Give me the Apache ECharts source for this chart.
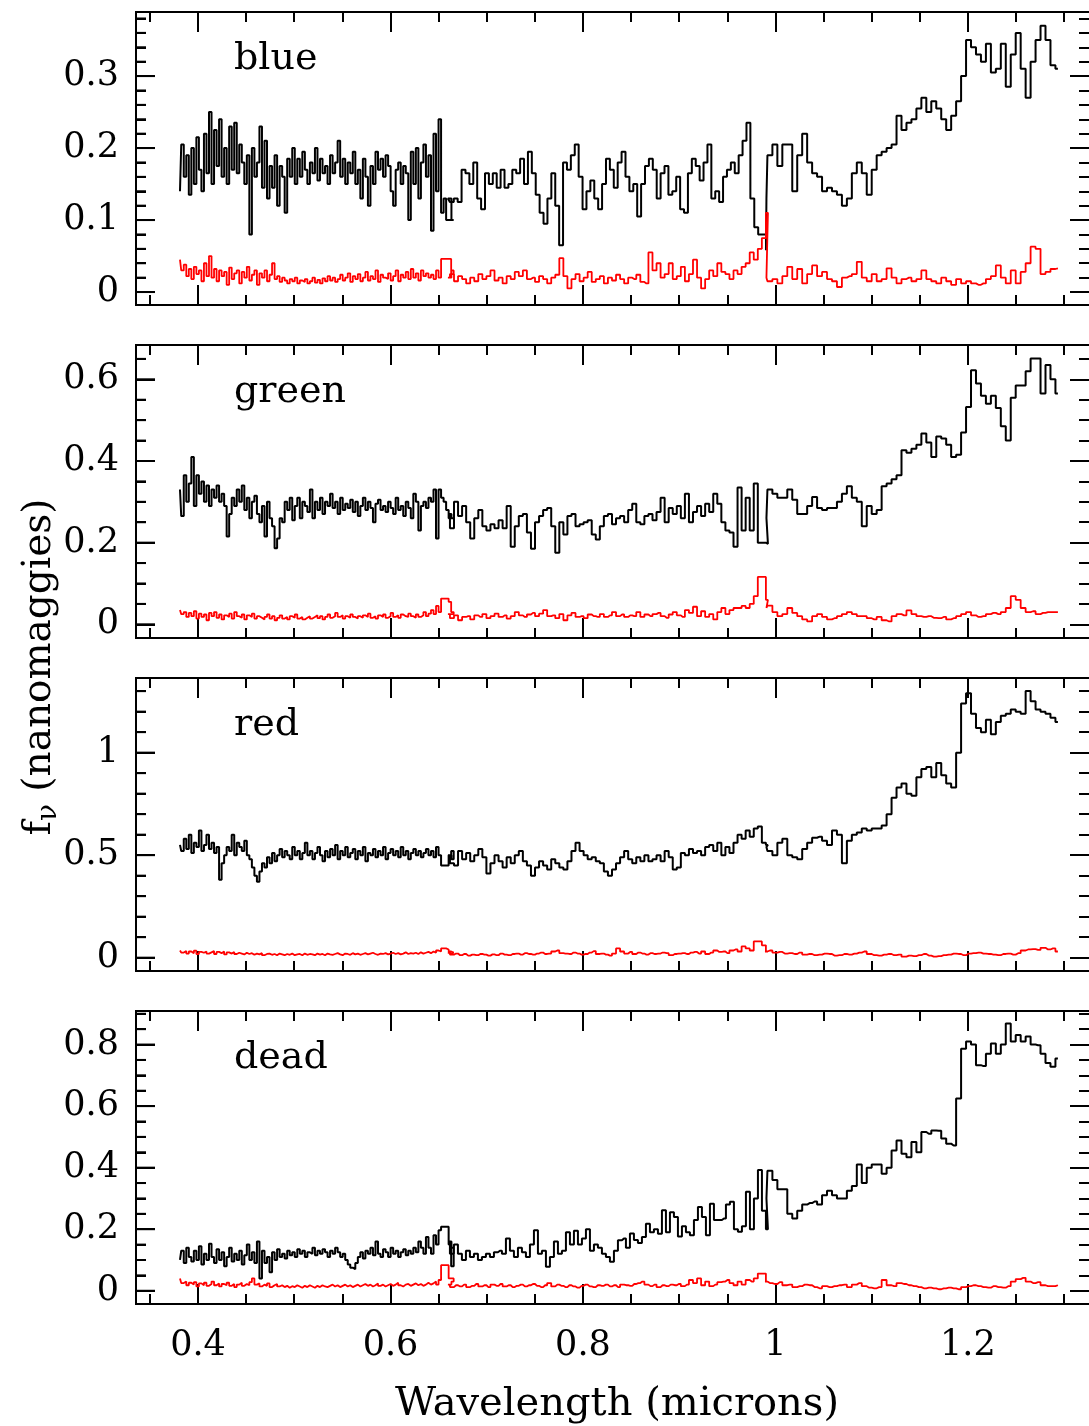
<!DOCTYPE html>
<style>
body {margin: 0; background: #fff;}
#div_echart {height: 1426px; width: 1089px;}
</style>
<script src='https://cdn.jsdelivr.net/npm/echarts@6/dist/echarts.min.js'></script>
<div id='div_echart'></div>
<script>
// wavelength span (microns) of the three spectral pieces, they overlap a little
let rangeA = [0.3813, 0.6670]
let rangeB = [0.6597, 0.9922]
let rangeC = [0.9891, 1.2935]

let panelNames = ['blue', 'green', 'red', 'dead']
let xMajor = [0.4, 0.6, 0.8, 1, 1.2]

// ---- blue
let blueFluxA = [0.140,0.205,0.160,0.190,0.135,0.200,0.150,0.215,0.170,0.140,0.220,0.165,0.250,0.150,0.225,0.175,0.240,0.160,0.200,0.150,0.230,0.170,0.235,0.165,0.205,0.180,0.150,0.190,0.080,0.200,0.160,0.180,0.230,0.145,0.210,0.130,0.175,0.145,0.190,0.120,0.175,0.160,0.110,0.185,0.160,0.200,0.150,0.185,0.160,0.195,0.170,0.150,0.180,0.165,0.200,0.155,0.185,0.165,0.175,0.150,0.190,0.165,0.180,0.210,0.160,0.185,0.150,0.180,0.165,0.195,0.150,0.170,0.130,0.185,0.160,0.120,0.175,0.150,0.195,0.170,0.185,0.160,0.190,0.175,0.140,0.120,0.170,0.180,0.150,0.175,0.165,0.100,0.195,0.150,0.200,0.130,0.180,0.205,0.160,0.190,0.085,0.220,0.140,0.240,0.110,0.130,0.100,0.100,0.100,0.100]
let blueFluxB = [0.130,0.125,0.130,0.125,0.170,0.165,0.150,0.180,0.130,0.115,0.165,0.150,0.165,0.145,0.170,0.145,0.150,0.170,0.165,0.185,0.150,0.195,0.165,0.135,0.110,0.095,0.130,0.165,0.120,0.065,0.180,0.170,0.190,0.205,0.160,0.115,0.140,0.155,0.130,0.115,0.150,0.185,0.170,0.145,0.180,0.195,0.160,0.140,0.150,0.105,0.150,0.175,0.185,0.170,0.130,0.165,0.175,0.135,0.140,0.160,0.115,0.110,0.165,0.185,0.175,0.155,0.180,0.205,0.130,0.140,0.125,0.160,0.170,0.180,0.165,0.190,0.210,0.235,0.130,0.090,0.080,0.080,0.058]
let blueFluxC = [0.130,0.190,0.205,0.175,0.205,0.205,0.140,0.190,0.220,0.180,0.165,0.160,0.140,0.145,0.140,0.135,0.120,0.130,0.165,0.180,0.165,0.135,0.170,0.190,0.195,0.200,0.205,0.245,0.225,0.235,0.240,0.255,0.270,0.250,0.265,0.255,0.240,0.225,0.245,0.265,0.300,0.350,0.340,0.330,0.320,0.345,0.305,0.310,0.345,0.285,0.330,0.360,0.310,0.270,0.320,0.350,0.370,0.350,0.315,0.310]
let blueErrA = [0.045,0.030,0.038,0.022,0.032,0.018,0.035,0.025,0.030,0.015,0.040,0.022,0.050,0.020,0.032,0.015,0.030,0.022,0.028,0.010,0.034,0.018,0.026,0.030,0.012,0.028,0.020,0.035,0.016,0.024,0.030,0.010,0.026,0.020,0.030,0.015,0.024,0.040,0.018,0.022,0.014,0.020,0.016,0.012,0.018,0.015,0.020,0.012,0.016,0.014,0.018,0.012,0.015,0.020,0.013,0.017,0.012,0.019,0.015,0.022,0.016,0.020,0.014,0.018,0.024,0.016,0.020,0.026,0.014,0.022,0.018,0.025,0.015,0.020,0.028,0.016,0.022,0.018,0.030,0.014,0.024,0.020,0.018,0.026,0.016,0.022,0.030,0.015,0.024,0.020,0.028,0.018,0.032,0.020,0.026,0.016,0.030,0.022,0.026,0.020,0.024,0.018,0.030,0.020,0.046,0.046,0.046,0.046,0.025,0.030]
let blueErrB = [0.020,0.025,0.015,0.022,0.018,0.012,0.020,0.015,0.025,0.018,0.022,0.030,0.016,0.020,0.012,0.022,0.018,0.028,0.022,0.030,0.018,0.020,0.014,0.022,0.018,0.012,0.020,0.024,0.047,0.022,0.005,0.018,0.025,0.015,0.020,0.028,0.014,0.018,0.022,0.012,0.020,0.016,0.024,0.018,0.012,0.020,0.018,0.024,0.014,0.012,0.055,0.030,0.040,0.020,0.025,0.040,0.018,0.022,0.035,0.015,0.025,0.045,0.020,0.005,0.018,0.030,0.022,0.040,0.028,0.025,0.018,0.030,0.025,0.035,0.040,0.055,0.045,0.060,0.075,0.110]
let blueErrC = [0.020,0.015,0.018,0.012,0.022,0.035,0.018,0.032,0.012,0.025,0.037,0.022,0.028,0.018,0.015,0.007,0.020,0.022,0.025,0.042,0.020,0.015,0.025,0.015,0.018,0.033,0.020,0.012,0.018,0.020,0.015,0.018,0.030,0.018,0.015,0.012,0.020,0.015,0.010,0.018,0.012,0.015,0.012,0.010,0.012,0.018,0.022,0.037,0.020,0.012,0.030,0.012,0.028,0.040,0.063,0.060,0.025,0.028,0.032,0.033]

// ---- green
let greenFluxA = [0.330,0.265,0.365,0.300,0.345,0.410,0.290,0.365,0.320,0.350,0.300,0.340,0.290,0.330,0.310,0.340,0.300,0.320,0.290,0.215,0.270,0.310,0.290,0.330,0.300,0.340,0.280,0.310,0.260,0.300,0.315,0.270,0.250,0.290,0.215,0.300,0.260,0.240,0.186,0.210,0.260,0.250,0.300,0.280,0.310,0.255,0.290,0.310,0.260,0.300,0.290,0.275,0.330,0.260,0.300,0.280,0.310,0.270,0.300,0.290,0.320,0.285,0.300,0.270,0.310,0.280,0.295,0.285,0.305,0.275,0.300,0.265,0.290,0.310,0.280,0.300,0.285,0.250,0.295,0.305,0.280,0.290,0.275,0.300,0.285,0.270,0.310,0.280,0.290,0.265,0.300,0.285,0.260,0.320,0.300,0.230,0.290,0.300,0.285,0.310,0.300,0.330,0.210,0.330,0.310,0.300,0.280,0.260,0.260,0.260]
let greenFluxB = [0.270,0.235,0.300,0.265,0.290,0.250,0.210,0.260,0.280,0.240,0.230,0.245,0.235,0.255,0.235,0.290,0.190,0.240,0.265,0.270,0.225,0.185,0.250,0.265,0.280,0.285,0.240,0.175,0.250,0.220,0.265,0.270,0.240,0.245,0.250,0.255,0.220,0.208,0.240,0.265,0.270,0.245,0.260,0.265,0.250,0.280,0.295,0.250,0.245,0.265,0.270,0.255,0.275,0.310,0.250,0.285,0.270,0.290,0.260,0.320,0.250,0.275,0.290,0.265,0.295,0.275,0.320,0.295,0.250,0.230,0.225,0.190,0.335,0.230,0.310,0.230,0.345,0.200,0.200,0.197]
let greenFluxC = [0.260,0.330,0.320,0.310,0.310,0.330,0.305,0.270,0.270,0.290,0.312,0.285,0.280,0.285,0.285,0.300,0.320,0.338,0.310,0.300,0.240,0.290,0.270,0.280,0.338,0.345,0.355,0.365,0.426,0.420,0.430,0.440,0.467,0.445,0.410,0.460,0.455,0.440,0.410,0.415,0.470,0.532,0.622,0.590,0.560,0.540,0.560,0.530,0.485,0.450,0.555,0.585,0.585,0.620,0.651,0.651,0.565,0.635,0.600,0.565]
let greenErrA = [0.035,0.025,0.030,0.018,0.028,0.020,0.032,0.014,0.026,0.018,0.024,0.010,0.028,0.020,0.030,0.016,0.024,0.012,0.022,0.018,0.026,0.014,0.030,0.020,0.016,0.024,0.012,0.022,0.018,0.026,0.014,0.020,0.016,0.012,0.018,0.024,0.014,0.020,0.010,0.016,0.022,0.014,0.018,0.012,0.020,0.016,0.024,0.014,0.018,0.012,0.016,0.020,0.014,0.018,0.022,0.015,0.020,0.012,0.018,0.024,0.016,0.020,0.028,0.018,0.022,0.014,0.020,0.016,0.024,0.018,0.014,0.020,0.016,0.022,0.018,0.026,0.016,0.020,0.014,0.022,0.018,0.024,0.016,0.020,0.028,0.018,0.022,0.016,0.024,0.020,0.018,0.026,0.020,0.016,0.024,0.018,0.022,0.030,0.020,0.026,0.035,0.025,0.045,0.030,0.063,0.063,0.063,0.055,0.030,0.025]
let greenErrB = [0.025,0.015,0.022,0.010,0.018,0.020,0.012,0.022,0.018,0.025,0.015,0.020,0.026,0.018,0.022,0.014,0.020,0.030,0.022,0.018,0.024,0.028,0.020,0.026,0.035,0.020,0.022,0.015,0.025,0.010,0.022,0.028,0.018,0.020,0.015,0.024,0.020,0.018,0.025,0.018,0.022,0.030,0.020,0.024,0.018,0.022,0.020,0.030,0.018,0.024,0.020,0.025,0.028,0.020,0.016,0.024,0.030,0.022,0.018,0.035,0.028,0.043,0.020,0.032,0.018,0.025,0.012,0.030,0.040,0.025,0.035,0.040,0.040,0.045,0.040,0.050,0.069,0.116,0.116,0.060]
let greenErrC = [0.040,0.046,0.030,0.020,0.025,0.040,0.028,0.020,0.012,0.007,0.020,0.025,0.018,0.012,0.015,0.020,0.025,0.030,0.025,0.020,0.020,0.015,0.012,0.018,0.010,0.007,0.020,0.025,0.022,0.034,0.025,0.020,0.018,0.020,0.016,0.015,0.018,0.012,0.015,0.020,0.025,0.030,0.022,0.018,0.020,0.025,0.028,0.025,0.030,0.040,0.069,0.060,0.040,0.030,0.032,0.025,0.028,0.030,0.030,0.030]

// ---- red
let redFluxA = [0.550,0.520,0.580,0.530,0.600,0.510,0.560,0.540,0.620,0.520,0.550,0.600,0.530,0.560,0.510,0.540,0.380,0.460,0.500,0.540,0.520,0.600,0.500,0.560,0.540,0.520,0.570,0.500,0.480,0.440,0.400,0.370,0.420,0.460,0.440,0.490,0.460,0.510,0.470,0.500,0.530,0.490,0.520,0.500,0.480,0.540,0.500,0.520,0.480,0.510,0.560,0.500,0.520,0.480,0.510,0.540,0.500,0.470,0.520,0.490,0.530,0.500,0.550,0.480,0.520,0.500,0.540,0.490,0.510,0.530,0.480,0.520,0.500,0.540,0.470,0.510,0.500,0.530,0.490,0.520,0.500,0.540,0.480,0.510,0.530,0.500,0.520,0.490,0.540,0.500,0.520,0.480,0.510,0.530,0.500,0.520,0.490,0.510,0.530,0.500,0.520,0.490,0.540,0.500,0.450,0.450,0.450,0.500,0.520,0.480]
let redFluxB = [0.500,0.460,0.450,0.520,0.480,0.510,0.470,0.500,0.530,0.490,0.410,0.460,0.500,0.470,0.440,0.490,0.460,0.500,0.520,0.470,0.450,0.400,0.440,0.470,0.450,0.430,0.480,0.460,0.440,0.430,0.470,0.520,0.560,0.520,0.500,0.480,0.490,0.470,0.460,0.420,0.400,0.430,0.460,0.490,0.520,0.480,0.460,0.490,0.470,0.500,0.470,0.480,0.500,0.470,0.520,0.490,0.430,0.440,0.510,0.500,0.530,0.510,0.520,0.500,0.540,0.550,0.520,0.560,0.500,0.540,0.510,0.560,0.600,0.580,0.620,0.590,0.630,0.640,0.560,0.550]
let redFluxC = [0.540,0.520,0.500,0.560,0.580,0.500,0.490,0.480,0.530,0.560,0.585,0.590,0.570,0.550,0.620,0.600,0.460,0.570,0.600,0.610,0.630,0.620,0.630,0.630,0.645,0.700,0.780,0.830,0.850,0.800,0.790,0.880,0.920,0.930,0.880,0.950,0.890,0.850,0.830,1.000,1.240,1.290,1.190,1.120,1.100,1.160,1.090,1.150,1.180,1.190,1.210,1.200,1.190,1.300,1.250,1.210,1.200,1.190,1.170,1.150]
let redErrA = [0.035,0.025,0.032,0.020,0.030,0.022,0.034,0.018,0.028,0.024,0.030,0.020,0.026,0.032,0.018,0.028,0.022,0.030,0.016,0.026,0.020,0.028,0.018,0.024,0.020,0.016,0.024,0.018,0.022,0.014,0.020,0.016,0.022,0.012,0.018,0.020,0.014,0.018,0.012,0.020,0.016,0.012,0.018,0.014,0.020,0.012,0.016,0.018,0.012,0.020,0.014,0.018,0.016,0.012,0.020,0.015,0.018,0.012,0.020,0.016,0.014,0.018,0.022,0.016,0.012,0.020,0.018,0.014,0.022,0.016,0.020,0.014,0.018,0.022,0.016,0.020,0.024,0.018,0.014,0.020,0.018,0.022,0.016,0.020,0.024,0.018,0.022,0.016,0.020,0.026,0.018,0.022,0.020,0.024,0.018,0.026,0.020,0.024,0.028,0.022,0.030,0.024,0.035,0.030,0.045,0.045,0.040,0.030,0.025,0.020]
let redErrB = [0.025,0.015,0.020,0.012,0.018,0.010,0.015,0.012,0.018,0.015,0.010,0.016,0.012,0.020,0.015,0.012,0.018,0.020,0.015,0.022,0.018,0.015,0.020,0.025,0.018,0.020,0.030,0.035,0.022,0.020,0.018,0.025,0.020,0.015,0.018,0.025,0.032,0.018,0.020,0.015,0.010,0.020,0.045,0.030,0.020,0.028,0.018,0.025,0.020,0.015,0.022,0.018,0.020,0.025,0.022,0.012,0.018,0.020,0.022,0.018,0.025,0.028,0.020,0.030,0.018,0.025,0.035,0.028,0.030,0.022,0.035,0.040,0.030,0.055,0.045,0.035,0.079,0.079,0.060,0.030]
let redErrC = [0.030,0.035,0.025,0.028,0.020,0.022,0.018,0.025,0.015,0.018,0.012,0.015,0.020,0.018,0.010,0.012,0.018,0.015,0.020,0.025,0.030,0.018,0.012,0.010,0.015,0.018,0.012,0.015,0.005,0.010,0.008,0.012,0.018,0.010,0.005,0.008,0.012,0.015,0.020,0.018,0.012,0.020,0.022,0.025,0.020,0.018,0.015,0.012,0.018,0.020,0.015,0.022,0.035,0.040,0.042,0.038,0.048,0.040,0.045,0.030]

// ---- dead
let deadFluxA = [0.100,0.130,0.090,0.140,0.110,0.095,0.130,0.100,0.145,0.085,0.120,0.100,0.153,0.110,0.090,0.135,0.100,0.125,0.080,0.110,0.140,0.095,0.120,0.100,0.130,0.085,0.115,0.150,0.100,0.125,0.090,0.160,0.040,0.130,0.090,0.110,0.060,0.125,0.100,0.135,0.110,0.120,0.105,0.130,0.115,0.125,0.110,0.135,0.120,0.130,0.110,0.125,0.120,0.140,0.115,0.130,0.120,0.135,0.125,0.110,0.130,0.120,0.140,0.125,0.110,0.120,0.100,0.085,0.075,0.070,0.090,0.110,0.125,0.105,0.130,0.120,0.140,0.115,0.160,0.120,0.110,0.135,0.125,0.110,0.140,0.120,0.130,0.110,0.125,0.135,0.115,0.130,0.120,0.140,0.125,0.160,0.140,0.120,0.175,0.140,0.120,0.180,0.150,0.197,0.208,0.208,0.208,0.150,0.080,0.140]
let deadFluxB = [0.160,0.120,0.150,0.120,0.100,0.130,0.110,0.120,0.100,0.110,0.120,0.110,0.125,0.130,0.120,0.170,0.130,0.110,0.140,0.125,0.110,0.150,0.197,0.120,0.130,0.078,0.110,0.160,0.120,0.130,0.190,0.150,0.195,0.150,0.170,0.200,0.130,0.150,0.140,0.120,0.110,0.094,0.130,0.164,0.170,0.140,0.186,0.165,0.155,0.175,0.218,0.190,0.200,0.185,0.262,0.190,0.255,0.240,0.176,0.210,0.190,0.180,0.230,0.272,0.240,0.180,0.283,0.230,0.230,0.235,0.280,0.289,0.200,0.192,0.210,0.322,0.200,0.300,0.392,0.260,0.200]
let deadFluxC = [0.300,0.390,0.360,0.330,0.330,0.250,0.235,0.260,0.280,0.285,0.290,0.280,0.310,0.325,0.310,0.300,0.300,0.325,0.340,0.410,0.350,0.400,0.410,0.410,0.380,0.400,0.456,0.488,0.445,0.434,0.483,0.450,0.516,0.510,0.521,0.520,0.495,0.478,0.472,0.625,0.786,0.810,0.800,0.733,0.730,0.770,0.803,0.770,0.800,0.868,0.810,0.831,0.810,0.826,0.800,0.798,0.770,0.740,0.728,0.755]
let deadErrA = [0.040,0.025,0.030,0.018,0.026,0.020,0.028,0.014,0.024,0.018,0.026,0.016,0.022,0.030,0.018,0.024,0.014,0.022,0.018,0.026,0.016,0.022,0.012,0.020,0.026,0.016,0.022,0.018,0.028,0.040,0.020,0.024,0.014,0.020,0.016,0.024,0.012,0.018,0.022,0.014,0.018,0.012,0.016,0.010,0.015,0.012,0.018,0.014,0.010,0.016,0.012,0.018,0.014,0.010,0.016,0.012,0.018,0.014,0.012,0.016,0.020,0.014,0.018,0.012,0.016,0.020,0.014,0.018,0.012,0.016,0.020,0.014,0.018,0.022,0.016,0.020,0.014,0.018,0.024,0.016,0.020,0.014,0.018,0.022,0.016,0.020,0.026,0.018,0.014,0.020,0.022,0.016,0.020,0.024,0.018,0.022,0.016,0.020,0.026,0.020,0.024,0.030,0.020,0.035,0.083,0.083,0.083,0.040,0.040,0.030]
let deadErrB = [0.020,0.012,0.018,0.014,0.020,0.012,0.016,0.022,0.014,0.018,0.012,0.020,0.016,0.022,0.014,0.018,0.012,0.016,0.020,0.014,0.018,0.022,0.016,0.012,0.018,0.025,0.014,0.020,0.016,0.012,0.018,0.014,0.010,0.016,0.020,0.014,0.012,0.018,0.016,0.020,0.014,0.018,0.012,0.020,0.018,0.016,0.022,0.025,0.030,0.020,0.015,0.020,0.012,0.018,0.015,0.020,0.018,0.022,0.015,0.020,0.035,0.025,0.040,0.018,0.030,0.015,0.020,0.028,0.030,0.035,0.025,0.018,0.030,0.020,0.035,0.030,0.040,0.056,0.056,0.030]
let deadErrC = [0.030,0.025,0.022,0.028,0.018,0.020,0.012,0.015,0.020,0.018,0.012,0.008,0.015,0.012,0.015,0.018,0.020,0.012,0.020,0.025,0.015,0.010,0.008,0.012,0.035,0.018,0.015,0.025,0.022,0.018,0.015,0.012,0.008,0.010,0.008,0.005,0.008,0.010,0.008,0.005,0.012,0.015,0.018,0.015,0.012,0.010,0.015,0.012,0.010,0.015,0.030,0.038,0.042,0.030,0.025,0.028,0.018,0.015,0.015,0.018]

let fluxes = [[blueFluxA, blueFluxB, blueFluxC], [greenFluxA, greenFluxB, greenFluxC], [redFluxA, redFluxB, redFluxC], [deadFluxA, deadFluxB, deadFluxC]]
let errors = [[blueErrA, blueErrB, blueErrC], [greenErrA, greenErrB, greenErrC], [redErrA, redErrB, redErrC], [deadErrA, deadErrB, deadErrC]]

// per panel y range and ticks
let yRanges = [[-0.018, 0.389], [-0.0335, 0.684], [-0.065, 1.364], [-0.043, 0.909]]
let yMajors = [[0, 0.1, 0.2, 0.3], [0, 0.2, 0.4, 0.6], [0, 0.5, 1], [0, 0.2, 0.4, 0.6, 0.8]]
let yMinorSteps = [0.02, 0.05, 0.1, 0.05]
let xRange = [0.3356, 1.3258]

let font = 'DejaVu Serif'
let gridWidth = 953

function piece(range, values) {
	let n = values.length
	return values.map((v, i) => [range[0] + (range[1] - range[0]) * i / (n - 1), v])
}
function spectrum(parts) {
	return [...piece(rangeA, parts[0]), ...piece(rangeB, parts[1]), ...piece(rangeC, parts[2])]
}
function minorTicks(range, step, majors) {
	let out = []
	for (let k = Math.ceil(range[0] / step - 1e-9); k * step <= range[1] + 1e-9; k++) {
		let v = +(k * step).toFixed(4)
		if (!majors.some(m => Math.abs(m - v) < 1e-9)) out.push(v)
	}
	return out
}
function axis(grid, position, range, ticks, length, labels, margin, line) {
	return {
		type: 'value', gridIndex: grid, position, min: range[0], max: range[1],
		axisLine: {show: line, onZero: false, lineStyle: {color: '#000', width: 2}}, splitLine: {show: false},
		axisTick: {show: true, inside: true, length, customValues: ticks, lineStyle: {color: '#000', width: 2}},
		axisLabel: labels ? {show: true, customValues: labels, margin, showMinLabel: true, showMaxLabel: true, hideOverlap: false,
			color: '#000', fontFamily: font, fontSize: 35} : {show: false}
	}
}
// left-frame ticks, placed through the y scale of the panel
function leftTicks(i, yMinor) {
	return {
		type: 'custom', xAxisIndex: 4 * i, yAxisIndex: 4 * i, silent: true, clip: false, z: 5,
		encode: {x: 1, y: 0},
		data: [...yMajors[i].map(v => [v, 19]), ...yMinor.map(v => [v, 10])],
		renderItem: (params, api) => {
			let p = api.coord([xRange[0], api.value(0)])
			return {type: 'line', shape: {x1: p[0], y1: p[1], x2: p[0] + api.value(1), y2: p[1]}, style: {stroke: '#000', lineWidth: 2}}
		}
	}
}

let grids = [], xAxes = [], yAxes = [], series = [], graphics = []
let xMinor = minorTicks(xRange, 0.05, xMajor)
for (let i = 0; i < 4; i++) {
	let top = 12 + 333 * i
	grids.push({left: 136, top, width: gridWidth, height: 293})
	let last = i == 3
	xAxes.push(axis(i, 'bottom', xRange, xMajor, 20, last ? xMajor : null, 24, true))
	xAxes.push(axis(i, 'bottom', xRange, xMinor, 10, null, 0, true))
	xAxes.push(axis(i, 'top', xRange, xMajor, 20, null, 0, true))
	xAxes.push(axis(i, 'top', xRange, xMinor, 10, null, 0, true))
	let yMinor = minorTicks(yRanges[i], yMinorSteps[i], yMajors[i])
	yAxes.push(axis(i, 'left', yRanges[i], yMajors[i], 19, yMajors[i], 17, true))
	yAxes.push(axis(i, 'left', yRanges[i], yMinor, 10, null, 0, true))
	yAxes.push(axis(i, 'right', yRanges[i], yMajors[i], 19, null, 0, false))
	yAxes.push(axis(i, 'right', yRanges[i], yMinor, 10, null, 0, false))
	series.push({type: 'line', step: 'middle', xAxisIndex: 4 * i, yAxisIndex: 4 * i, showSymbol: false, data: spectrum(fluxes[i]), lineStyle: {color: '#000', width: 2}, z: 2})
	series.push({type: 'line', step: 'middle', xAxisIndex: 4 * i, yAxisIndex: 4 * i, showSymbol: false, data: spectrum(errors[i]), lineStyle: {color: '#ff0000', width: 1.8}, z: 3})
	series.push(leftTicks(i, yMinor))
	graphics.push({type: 'text', x: 234, y: top + 47, style: {text: panelNames[i], fontFamily: font, fontSize: 38, fill: '#000', verticalAlign: 'middle'}})
}
graphics.push({type: 'text', x: 617, y: 1405, style: {text: 'Wavelength (microns)', fontFamily: font, fontSize: 40, fill: '#000', align: 'center', verticalAlign: 'middle'}})
graphics.push({type: 'text', x: 40, y: 667, rotation: Math.PI / 2, style: {
	text: '{n|f}{s|ν}{n| (nanomaggies)}', align: 'center', verticalAlign: 'middle', fill: '#000',
	rich: {n: {fontFamily: font, fontSize: 39, lineHeight: 46, fill: '#000'}, s: {fontFamily: font, fontSize: 28, lineHeight: 30, verticalAlign: 'bottom', fill: '#000'}}
}})

let echart = echarts.init(document.getElementById('div_echart'))
echart.setOption({animation: false, grid: grids, xAxis: xAxes, yAxis: yAxes, series, graphic: graphics})
</script>
